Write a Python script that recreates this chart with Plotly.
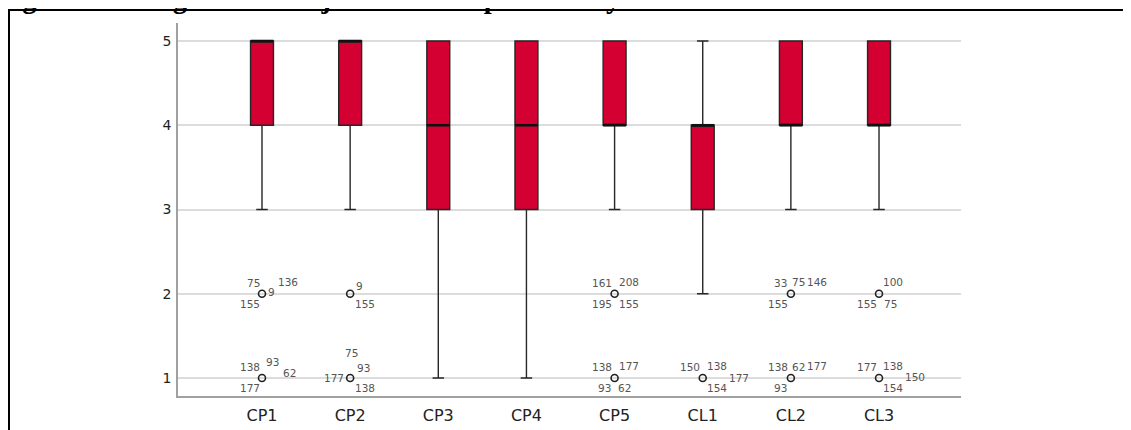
import plotly.graph_objects as go

# ---------------- data ----------------
categories = ["CP1", "CP2", "CP3", "CP4", "CP5", "CL1", "CL2", "CL3"]
q1 = [4, 4, 3, 3, 4, 3, 4, 4]
median = [5, 5, 4, 4, 4, 4, 4, 4]
q3 = [5, 5, 5, 5, 5, 4, 5, 5]
lower_whisker = [3, 3, 1, 1, 3, 2, 3, 3]
upper_whisker = [5, 5, 5, 5, 5, 5, 5, 5]

# outliers: (category index, value, case labels)
outlier_cat = [0, 0, 1, 1, 4, 4, 5, 6, 6, 7, 7]
outlier_val = [2, 1, 2, 1, 2, 1, 1, 2, 1, 2, 1]
outlier_labels = [
    ["75", "9", "136", "155"],
    ["138", "93", "62", "177"],
    ["9", "155"],
    ["75", "93", "177", "138"],
    ["161", "208", "195", "155"],
    ["138", "177", "93", "62"],
    ["150", "138", "177", "154"],
    ["33", "75", "146", "155"],
    ["138", "62", "177", "93"],
    ["100", "155", "75"],
    ["177", "138", "150", "154"],
]

# ---------------- styling (pixel offsets of case labels) ----------------
label_offsets = [
    [(-9, -11), (9, -2), (26, -12), (-12, 10)],
    [(-12, -11), (10, -16), (27, -5), (-12, 10)],
    [(9, -8), (15, 10)],
    [(1, -25), (13, -10), (-16, 0), (15, 10)],
    [(-13, -11), (14, -12), (-13, 10), (14, 10)],
    [(-13, -11), (14, -12), (-10, 10), (10, 10)],
    [(-13, -11), (14, -12), (36, 0), (14, 10)],
    [(-10, -11), (8, -12), (26, -12), (-13, 10)],
    [(-13, -11), (8, -11), (26, -12), (-10, 10)],
    [(14, -12), (-12, 10), (11, 10)],
    [(-12, -11), (14, -12), (36, -1), (14, 10)],
]

BOX_W = 0.26
RED = "#D40032"
pos = list(range(len(categories)))

fig = go.Figure()

fig.add_trace(go.Box(
    x=pos, q1=q1, median=median, q3=q3,
    lowerfence=lower_whisker, upperfence=upper_whisker,
    width=BOX_W, whiskerwidth=0.5,
    fillcolor=RED, line=dict(color="#262626", width=1.4),
    boxpoints=False, showlegend=False, hoverinfo="skip",
))

# thick median lines
mx, my = [], []
for p, m in zip(pos, median):
    mx += [p - BOX_W / 2, p + BOX_W / 2, None]
    my += [m, m, None]
fig.add_trace(go.Scatter(x=mx, y=my, mode="lines",
                         line=dict(color="#111111", width=2.6),
                         showlegend=False, hoverinfo="skip"))

# outliers
fig.add_trace(go.Scatter(
    x=outlier_cat, y=outlier_val, mode="markers",
    marker=dict(symbol="circle-open", size=7, color="#222222",
                line=dict(width=1.6, color="#222222")),
    showlegend=False, hoverinfo="skip"))

annotations = []
for c, v, labs, offs in zip(outlier_cat, outlier_val, outlier_labels, label_offsets):
    for lab, (dx, dy) in zip(labs, offs):
        annotations.append(dict(
            x=c, y=v, xref="x", yref="y", text=lab, showarrow=False,
            xshift=dx, yshift=-dy,
            font=dict(family="DejaVu Sans", size=10.5, color="#555555"),
        ))

# page offset of the figure inside the browser window
OFF = 7
W, H = 1131, 430
L, T = 177 - OFF, 22 - OFF
R = W - (960 - OFF)
B = H - (395 - OFF)
pw, ph = W - L - R, H - T - B
def px_x(sx):
    return (sx - OFF - L) / pw
def px_y(sy):
    return (H - B - (sy - OFF)) / ph

# partially visible caption at the top
annotations.append(dict(
    x=px_x(-6), y=px_y(-2.5), xref="paper", yref="paper",
    xanchor="left", yanchor="middle", showarrow=False,
    text="<b>Figura 11: Diagrama de caja de calidad percibida y de lealtad</b>",
    font=dict(family="Liberation Serif", size=28.5, color="#000000"),
))

fig.update_layout(
    width=W, height=H,
    margin=dict(l=L, r=R, t=T, b=B, autoexpand=False),
    paper_bgcolor="white", plot_bgcolor="white",
    annotations=annotations,
    shapes=[dict(type="rect", xref="paper", yref="paper",
                 x0=px_x(8), y0=px_y(9), x1=px_x(1200), y1=px_y(500),
                 line=dict(color="black", width=2), fillcolor="rgba(0,0,0,0)",
                 layer="above")],
    xaxis=dict(
        range=[-0.953, 7.93], tickmode="array", tickvals=pos, ticktext=categories,
        showgrid=False, zeroline=False, showline=True, linecolor="#a0a0a0", linewidth=1.5,
        ticks="outside", ticklen=4, tickcolor="rgba(0,0,0,0)",
        tickfont=dict(family="DejaVu Sans", size=16, color="#222222"),
    ),
    yaxis=dict(
        range=[0.786, 5.214], tickmode="array", tickvals=[1, 2, 3, 4, 5],
        showgrid=True, gridcolor="#dcdcdc", gridwidth=1.5, zeroline=False,
        showline=True, linecolor="#a0a0a0", linewidth=1.5,
        ticks="outside", ticklen=2, tickcolor="rgba(0,0,0,0)",
        tickfont=dict(family="DejaVu Sans", size=14, color="#222222"),
    ),
)

fig.write_html("out.html")
